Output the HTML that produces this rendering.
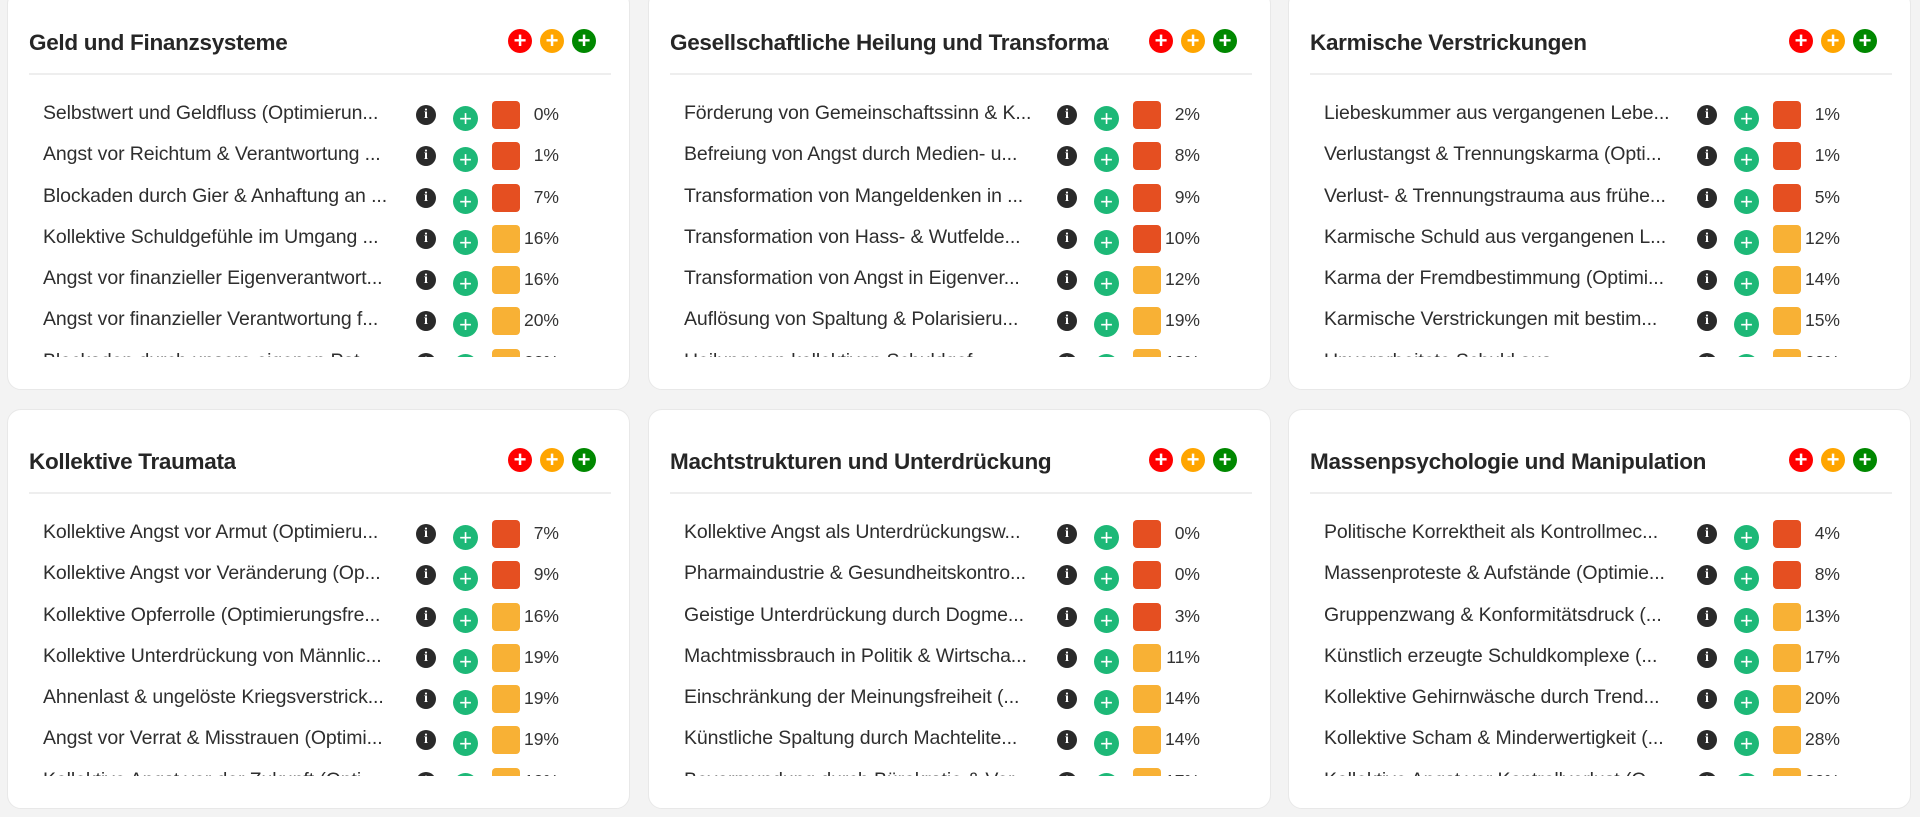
<!DOCTYPE html>
<html><head><meta charset="utf-8"><style>
*{box-sizing:border-box;margin:0;padding:0}
body{width:1920px;height:817px;background:#f3f3f3;position:relative;overflow:hidden;font-family:"Liberation Sans",sans-serif;color:#2a2a2a}
.card{position:absolute;width:623px;height:400px;background:#fff;border:1px solid #e8e8e8;border-radius:14px;overflow:hidden}
.t{position:absolute;left:21px;top:39px;font-size:22.5px;font-weight:bold;color:#262626;white-space:nowrap;overflow:hidden;letter-spacing:-0.3px}
.b{position:absolute;top:38px;width:24px;height:24px;border-radius:50%;color:#fff;font-size:22px;line-height:24px;text-align:center;font-weight:bold}
.hr{position:absolute;left:21px;width:582px;top:82px;height:2px;background:#eeeeee}
.rows{position:absolute;left:0;top:103px;width:623px;height:263px;overflow:hidden}
.r{position:relative;height:41.3px}
.r .x{position:absolute;left:35px;top:8px;width:363px;font-size:19.5px;white-space:nowrap;overflow:hidden;text-overflow:ellipsis;color:#2e2e2e;letter-spacing:-0.1px}
.r .i{position:absolute;left:408px;top:11px;width:20px;height:20px;border-radius:50%;background:#2a2a2a;color:#fff;font-size:14px;font-weight:bold;line-height:20px;text-align:center;font-family:"Liberation Serif",serif}
.r .p{position:absolute;left:445px;top:12px;width:25px;height:25px;border-radius:50%;background:#1db877;color:#fff;font-size:22px;line-height:25px;text-align:center}
.r .s{position:absolute;left:484px;top:7px;width:28px;height:28px;border-radius:4px}
.r .v{position:absolute;left:500px;width:51px;top:10px;text-align:right;font-size:17.5px;color:#333}
.o{background:#e54f21}.y{background:#f8b135}
</style></head><body>

<div class="card" style="left:7px;top:-10px">
<div class="t" style="max-width:450px">Geld und Finanzsysteme</div>
<div class="b" style="left:500px;background:#f00">+</div><div class="b" style="left:532px;background:#ffa500">+</div><div class="b" style="left:564px;background:#080">+</div>
<div class="hr"></div>
<div class="rows">
<div class="r"><div class="x">Selbstwert und Geldfluss (Optimierun...</div><div class="i">i</div><div class="p">+</div><div class="s o"></div><div class="v">0%</div></div>
<div class="r"><div class="x">Angst vor Reichtum &amp; Verantwortung ...</div><div class="i">i</div><div class="p">+</div><div class="s o"></div><div class="v">1%</div></div>
<div class="r"><div class="x">Blockaden durch Gier &amp; Anhaftung an ...</div><div class="i">i</div><div class="p">+</div><div class="s o"></div><div class="v">7%</div></div>
<div class="r"><div class="x">Kollektive Schuldgefühle im Umgang ...</div><div class="i">i</div><div class="p">+</div><div class="s y"></div><div class="v">16%</div></div>
<div class="r"><div class="x">Angst vor finanzieller Eigenverantwort...</div><div class="i">i</div><div class="p">+</div><div class="s y"></div><div class="v">16%</div></div>
<div class="r"><div class="x">Angst vor finanzieller Verantwortung f...</div><div class="i">i</div><div class="p">+</div><div class="s y"></div><div class="v">20%</div></div>
<div class="r"><div class="x">Blockaden durch unsere eigenen Pat...</div><div class="i">i</div><div class="p">+</div><div class="s y"></div><div class="v">22%</div></div>
</div></div>

<div class="card" style="left:648px;top:-10px">
<div class="t" style="max-width:439px">Gesellschaftliche Heilung und Transformation</div>
<div class="b" style="left:500px;background:#f00">+</div><div class="b" style="left:532px;background:#ffa500">+</div><div class="b" style="left:564px;background:#080">+</div>
<div class="hr"></div>
<div class="rows">
<div class="r"><div class="x">Förderung von Gemeinschaftssinn &amp; K...</div><div class="i">i</div><div class="p">+</div><div class="s o"></div><div class="v">2%</div></div>
<div class="r"><div class="x">Befreiung von Angst durch Medien- u...</div><div class="i">i</div><div class="p">+</div><div class="s o"></div><div class="v">8%</div></div>
<div class="r"><div class="x">Transformation von Mangeldenken in ...</div><div class="i">i</div><div class="p">+</div><div class="s o"></div><div class="v">9%</div></div>
<div class="r"><div class="x">Transformation von Hass- &amp; Wutfelde...</div><div class="i">i</div><div class="p">+</div><div class="s o"></div><div class="v">10%</div></div>
<div class="r"><div class="x">Transformation von Angst in Eigenver...</div><div class="i">i</div><div class="p">+</div><div class="s y"></div><div class="v">12%</div></div>
<div class="r"><div class="x">Auflösung von Spaltung &amp; Polarisieru...</div><div class="i">i</div><div class="p">+</div><div class="s y"></div><div class="v">19%</div></div>
<div class="r"><div class="x">Heilung von kollektiven Schuldgef...</div><div class="i">i</div><div class="p">+</div><div class="s y"></div><div class="v">19%</div></div>
</div></div>

<div class="card" style="left:1288px;top:-10px">
<div class="t" style="max-width:450px">Karmische Verstrickungen</div>
<div class="b" style="left:500px;background:#f00">+</div><div class="b" style="left:532px;background:#ffa500">+</div><div class="b" style="left:564px;background:#080">+</div>
<div class="hr"></div>
<div class="rows">
<div class="r"><div class="x">Liebeskummer aus vergangenen Lebe...</div><div class="i">i</div><div class="p">+</div><div class="s o"></div><div class="v">1%</div></div>
<div class="r"><div class="x">Verlustangst &amp; Trennungskarma (Opti...</div><div class="i">i</div><div class="p">+</div><div class="s o"></div><div class="v">1%</div></div>
<div class="r"><div class="x">Verlust- &amp; Trennungstrauma aus frühe...</div><div class="i">i</div><div class="p">+</div><div class="s o"></div><div class="v">5%</div></div>
<div class="r"><div class="x">Karmische Schuld aus vergangenen L...</div><div class="i">i</div><div class="p">+</div><div class="s y"></div><div class="v">12%</div></div>
<div class="r"><div class="x">Karma der Fremdbestimmung (Optimi...</div><div class="i">i</div><div class="p">+</div><div class="s y"></div><div class="v">14%</div></div>
<div class="r"><div class="x">Karmische Verstrickungen mit bestim...</div><div class="i">i</div><div class="p">+</div><div class="s y"></div><div class="v">15%</div></div>
<div class="r"><div class="x">Unverarbeitete Schuld aus...</div><div class="i">i</div><div class="p">+</div><div class="s y"></div><div class="v">20%</div></div>
</div></div>

<div class="card" style="left:7px;top:409px">
<div class="t" style="max-width:450px">Kollektive Traumata</div>
<div class="b" style="left:500px;background:#f00">+</div><div class="b" style="left:532px;background:#ffa500">+</div><div class="b" style="left:564px;background:#080">+</div>
<div class="hr"></div>
<div class="rows">
<div class="r"><div class="x">Kollektive Angst vor Armut (Optimieru...</div><div class="i">i</div><div class="p">+</div><div class="s o"></div><div class="v">7%</div></div>
<div class="r"><div class="x">Kollektive Angst vor Veränderung (Op...</div><div class="i">i</div><div class="p">+</div><div class="s o"></div><div class="v">9%</div></div>
<div class="r"><div class="x">Kollektive Opferrolle (Optimierungsfre...</div><div class="i">i</div><div class="p">+</div><div class="s y"></div><div class="v">16%</div></div>
<div class="r"><div class="x">Kollektive Unterdrückung von Männlic...</div><div class="i">i</div><div class="p">+</div><div class="s y"></div><div class="v">19%</div></div>
<div class="r"><div class="x">Ahnenlast &amp; ungelöste Kriegsverstrick...</div><div class="i">i</div><div class="p">+</div><div class="s y"></div><div class="v">19%</div></div>
<div class="r"><div class="x">Angst vor Verrat &amp; Misstrauen (Optimi...</div><div class="i">i</div><div class="p">+</div><div class="s y"></div><div class="v">19%</div></div>
<div class="r"><div class="x">Kollektive Angst vor der Zukunft (Opti...</div><div class="i">i</div><div class="p">+</div><div class="s y"></div><div class="v">19%</div></div>
</div></div>

<div class="card" style="left:648px;top:409px">
<div class="t" style="max-width:450px">Machtstrukturen und Unterdrückung</div>
<div class="b" style="left:500px;background:#f00">+</div><div class="b" style="left:532px;background:#ffa500">+</div><div class="b" style="left:564px;background:#080">+</div>
<div class="hr"></div>
<div class="rows">
<div class="r"><div class="x">Kollektive Angst als Unterdrückungsw...</div><div class="i">i</div><div class="p">+</div><div class="s o"></div><div class="v">0%</div></div>
<div class="r"><div class="x">Pharmaindustrie &amp; Gesundheitskontro...</div><div class="i">i</div><div class="p">+</div><div class="s o"></div><div class="v">0%</div></div>
<div class="r"><div class="x">Geistige Unterdrückung durch Dogme...</div><div class="i">i</div><div class="p">+</div><div class="s o"></div><div class="v">3%</div></div>
<div class="r"><div class="x">Machtmissbrauch in Politik &amp; Wirtscha...</div><div class="i">i</div><div class="p">+</div><div class="s y"></div><div class="v">11%</div></div>
<div class="r"><div class="x">Einschränkung der Meinungsfreiheit (...</div><div class="i">i</div><div class="p">+</div><div class="s y"></div><div class="v">14%</div></div>
<div class="r"><div class="x">Künstliche Spaltung durch Machtelite...</div><div class="i">i</div><div class="p">+</div><div class="s y"></div><div class="v">14%</div></div>
<div class="r"><div class="x">Bevormundung durch Bürokratie &amp; Verwaltung</div><div class="i">i</div><div class="p">+</div><div class="s y"></div><div class="v">17%</div></div>
</div></div>

<div class="card" style="left:1288px;top:409px">
<div class="t" style="max-width:450px">Massenpsychologie und Manipulation</div>
<div class="b" style="left:500px;background:#f00">+</div><div class="b" style="left:532px;background:#ffa500">+</div><div class="b" style="left:564px;background:#080">+</div>
<div class="hr"></div>
<div class="rows">
<div class="r"><div class="x">Politische Korrektheit als Kontrollmec...</div><div class="i">i</div><div class="p">+</div><div class="s o"></div><div class="v">4%</div></div>
<div class="r"><div class="x">Massenproteste &amp; Aufstände (Optimie...</div><div class="i">i</div><div class="p">+</div><div class="s o"></div><div class="v">8%</div></div>
<div class="r"><div class="x">Gruppenzwang &amp; Konformitätsdruck (...</div><div class="i">i</div><div class="p">+</div><div class="s y"></div><div class="v">13%</div></div>
<div class="r"><div class="x">Künstlich erzeugte Schuldkomplexe (...</div><div class="i">i</div><div class="p">+</div><div class="s y"></div><div class="v">17%</div></div>
<div class="r"><div class="x">Kollektive Gehirnwäsche durch Trend...</div><div class="i">i</div><div class="p">+</div><div class="s y"></div><div class="v">20%</div></div>
<div class="r"><div class="x">Kollektive Scham &amp; Minderwertigkeit (...</div><div class="i">i</div><div class="p">+</div><div class="s y"></div><div class="v">28%</div></div>
<div class="r"><div class="x">Kollektive Angst vor Kontrollverlust (O...</div><div class="i">i</div><div class="p">+</div><div class="s y"></div><div class="v">30%</div></div>
</div></div>

</body></html>
